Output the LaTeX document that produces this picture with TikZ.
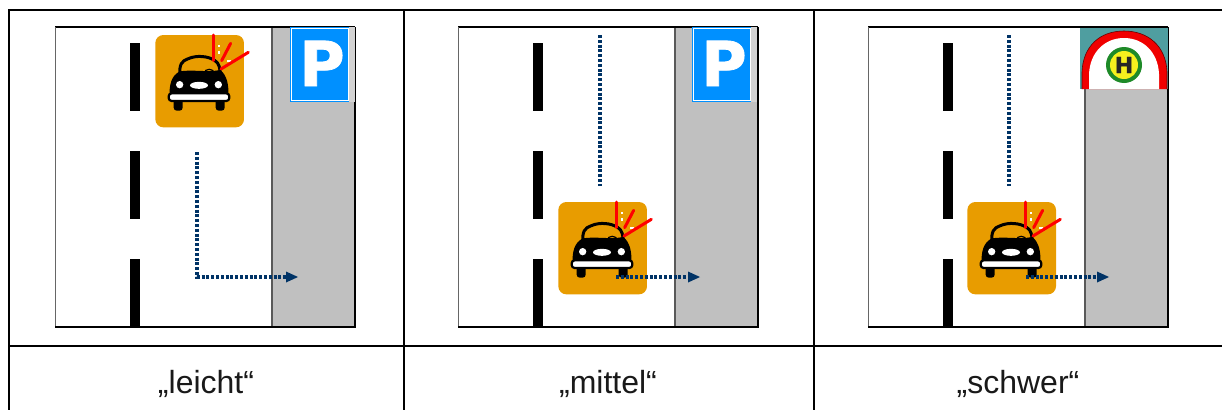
\documentclass[tikz,border=0pt]{standalone}
\usepackage{fontspec}
\setmainfont{Liberation Sans}
\newfontfamily\heavyfont[FakeBold=1.2]{DejaVu Sans}
\usetikzlibrary{arrows.meta}
\definecolor{signorange}{HTML}{E89C00}
\definecolor{shoulder}{HTML}{C0C0C0}
\definecolor{pblue}{HTML}{0090FF}
\definecolor{routeblue}{HTML}{003366}
\definecolor{teal}{HTML}{4F9EA0}
\definecolor{busred}{HTML}{F00000}
\definecolor{busgreen}{HTML}{1E8A28}
\definecolor{busyellow}{HTML}{F6F01E}
\tikzset{
  grid/.style={line width=2.4pt,black},
  roadedge/.style={line width=1.4pt,black},
  lanemark/.style={fill=black,draw=none},
  route/.style={line width=3.2pt,routeblue,dash pattern=on 3pt off 1.8pt},
  routehead/.style={fill=routeblue,draw=none},
  flash/.style={line width=3pt,red,line cap=round},
  caption/.style={anchor=base,font=\fontsize{32}{34}\selectfont,text=black!90,inner sep=0pt},
  carsign/.pic={
    \begin{scope}[x=0.3333pt,y=-0.3333pt]
      \fill[signorange,rounded corners=8pt] (46,45) rectangle (312,322);
      % wheels
      \fill[black,rounded corners=3pt] (101,235) rectangle (128,272);
      \fill[black,rounded corners=3pt] (227,235) rectangle (254,272);
      % roof
      \draw[black,line width=3pt] (120,165) .. controls (117,135) and (125,122) .. (145,116) .. controls (170,105) and (205,108) .. (225,122) .. controls (238,130) and (240,145) .. (241,165);
      % body
      \fill[black] (89,230) .. controls (87,195) and (94,166) .. (120,154) .. controls (160,148) and (200,158) .. (241,150) .. controls (261,166) and (267,195) .. (265,230) -- cycle;
      % mirror arc
      \draw[black,line width=1.2pt] (192,160) .. controls (195,144) and (220,144) .. (224,160);
      % bumper
      \draw[black,fill=white,line width=2.2pt,rounded corners=3pt] (86,220) rectangle (268,243);
      % lights
      \fill[white] (119,194) circle[radius=11];
      \fill[white] (235,194) circle[radius=11];
      \fill[white] (177,196) ellipse[x radius=27,y radius=10.5];
      % sparks
      \fill[white] (234,74) rectangle (240,82);
      \fill[white] (234,92) rectangle (240,102);
      \fill[white] (262,120) rectangle (272,126);
      \draw[flash] (221,45) -- (221,122);
      \draw[flash] (272,70) -- (245,122);
      \draw[flash] (325,97) -- (243,147);
    \end{scope}
  },
  road/.pic={
    \fill[white] (0,0) rectangle (300,300);
    \fill[shoulder] (217,0) rectangle (300,300);
    \draw[line width=1.6pt,black!65] (217,0) -- (217,300);
    \fill[lanemark] (74.5,16) rectangle (84.5,84);
    \fill[lanemark] (74.5,124) rectangle (84.5,192);
    \fill[lanemark] (74.5,232) rectangle (84.5,300);
    \draw[roadedge] (300,0) -- (0,0);
    \draw[line width=1pt,black!60] (0,0) -- (0,300);
    \draw[roadedge] (0,300) -- (300,300) -- (300,0);
  },
  psign/.pic={
    \fill[shoulder!70] (59,0) rectangle (65,75);
    \fill[pblue] (0,0) rectangle (59,75);
    \draw[white,line width=.6pt] (1.5,1.5) rectangle (58,73.5);
    \node[anchor=base,font=\fontsize{62}{62}\heavyfont\bfseries,text=white,inner sep=0pt] (pletter) at (32,59) {P};
  }
}
\begin{document}
\begin{tikzpicture}[x=1pt,y=-1pt]
\useasboundingbox (0,0) rectangle (1222,410);
\fill[white] (0,0) rectangle (1222,410);
% table
\draw[grid] (1222,10) -- (9,10) -- (9,410);
\draw[grid] (9,346) -- (1222,346);
\draw[grid] (404,10) -- (404,410);
\draw[grid] (814,10) -- (814,410);
% roads
\pic at (55,27) {road};
\pic at (458,27) {road};
\pic at (868,27) {road};
% signs
\pic at (290,27) {psign};
\pic at (692,27) {psign};
% bus stop sign
\begin{scope}
  \fill[teal] (1080,28) rectangle (1168,89);
  \fill[busred] (1082,89) -- (1082,72) .. controls (1083,46) and (1100,31) .. (1124,31) .. controls (1148,31) and (1166,46) .. (1167,72) -- (1167,89) -- cycle;
  \draw[black!60!red,line width=.6pt] (1082,89) -- (1082,72) .. controls (1083,46) and (1100,31) .. (1124,31) .. controls (1148,31) and (1166,46) .. (1167,72) -- (1167,89);
  \fill[white] (1089,89) -- (1089,74) .. controls (1090,52) and (1105,38) .. (1124,38) .. controls (1143,38) and (1158,52) .. (1159,74) -- (1159,89) -- cycle;
  \fill[busgreen] (1124,65) circle[radius=18];
  \fill[busyellow] (1124,65) circle[radius=14];
  \node[font=\fontsize{22}{22}\heavyfont\bfseries,text=black!85,inner sep=0pt] (hletter) at (1124,65) {H};
\end{scope}
% car signs
\pic at (140,20) {carsign};
\pic at (543,187) {carsign};
\pic at (952,187) {carsign};
% routes
\coordinate (a1) at (197,152); \coordinate (a2) at (197,277); \coordinate (a3) at (288,277); \coordinate (a4) at (298,277);
\draw[route] (a1) -- (a2) -- (a3);
\fill[routehead] (a4) -- (286,271.5) -- (286,282.5) -- cycle;
\coordinate (b1) at (600,35); \coordinate (b2) at (600,186);
\draw[route] (b1) -- (b2);
\coordinate (b3) at (616,277); \coordinate (b4) at (690,277); \coordinate (b5) at (700,277);
\draw[route] (b3) -- (b4);
\fill[routehead] (b5) -- (688,271.5) -- (688,282.5) -- cycle;
\coordinate (c1) at (1009,35); \coordinate (c2) at (1009,186);
\draw[route] (c1) -- (c2);
\coordinate (c3) at (1026,277); \coordinate (c4) at (1099,277); \coordinate (c5) at (1109,277);
\draw[route] (c3) -- (c4);
\fill[routehead] (c5) -- (1097,271.5) -- (1097,282.5) -- cycle;
% captions
\node[caption] (capa) at (206,393) {„leicht“};
\node[caption] (capb) at (608,393) {„mittel“};
\node[caption] (capc) at (1018,393) {„schwer“};
\end{tikzpicture}
\end{document}
